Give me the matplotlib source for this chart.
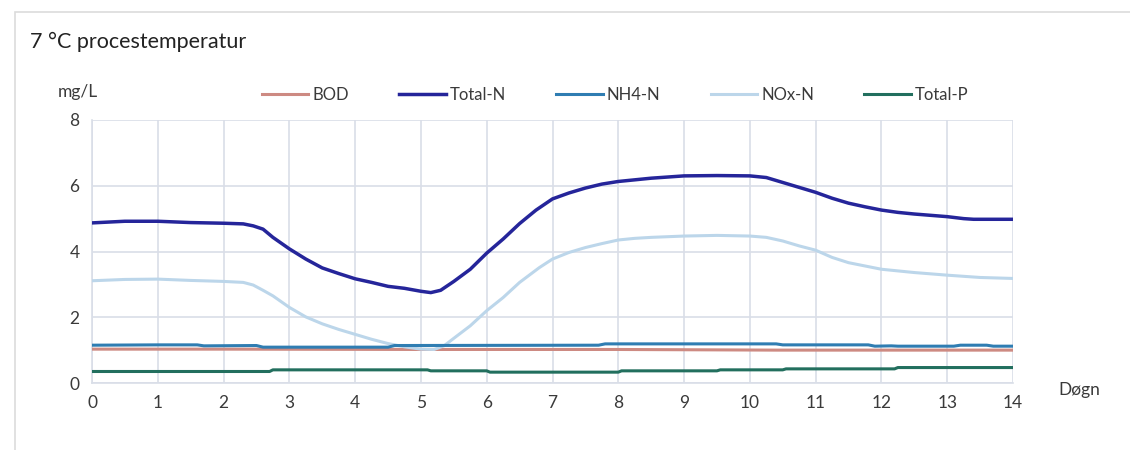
import matplotlib
matplotlib.use("Agg")
import matplotlib.pyplot as plt
from matplotlib.patches import Rectangle

# ---- data ----
days_n = [0, 0.5, 1, 1.5, 2, 2.3, 2.45, 2.6, 2.75, 3, 3.25, 3.5, 3.75, 4, 4.25, 4.5,
          4.75, 5, 5.15, 5.3, 5.5, 5.75, 6, 6.25, 6.5, 6.75, 7, 7.25, 7.5, 7.75, 8,
          8.25, 8.5, 9, 9.5, 10, 10.25, 10.5, 10.75, 11, 11.25, 11.5, 11.75, 12,
          12.25, 12.5, 12.75, 13, 13.25, 13.4, 14]
total_n = [4.87, 4.92, 4.92, 4.88, 4.86, 4.84, 4.78, 4.68, 4.43, 4.08, 3.77, 3.5, 3.33,
           3.17, 3.06, 2.94, 2.88, 2.79, 2.75, 2.82, 3.09, 3.46, 3.95, 4.38, 4.85, 5.26,
           5.6, 5.78, 5.93, 6.05, 6.13, 6.18, 6.23, 6.3, 6.31, 6.3, 6.25, 6.1, 5.95,
           5.8, 5.62, 5.47, 5.36, 5.26, 5.19, 5.14, 5.1, 5.06, 5.0, 4.98, 4.98]

days_x = [0, 0.5, 1, 1.5, 2, 2.3, 2.45, 2.6, 2.75, 3, 3.25, 3.5, 3.75, 4, 4.25, 4.5,
          4.75, 5, 5.2, 5.35, 5.5, 5.75, 6, 6.25, 6.5, 6.8, 7, 7.25, 7.5, 7.75, 8,
          8.25, 8.5, 9, 9.5, 10, 10.25, 10.5, 10.75, 11, 11.25, 11.5, 11.75, 12,
          12.5, 13, 13.5, 14]
nox_n = [3.11, 3.15, 3.16, 3.12, 3.09, 3.06, 2.98, 2.82, 2.65, 2.3, 2.01, 1.8, 1.63,
         1.48, 1.33, 1.2, 1.1, 1.03, 1.02, 1.13, 1.36, 1.74, 2.2, 2.6, 3.06, 3.51,
         3.77, 3.97, 4.12, 4.24, 4.35, 4.4, 4.43, 4.47, 4.49, 4.47, 4.43, 4.32, 4.17,
         4.04, 3.82, 3.66, 3.56, 3.46, 3.36, 3.28, 3.21, 3.18]

days_nh4 = [0, 1, 1.6, 1.7, 2.5, 2.6, 4.5, 4.6, 7.7, 7.8, 10.4, 10.5, 11.8, 11.9, 12.15,
            12.25, 13.1, 13.2, 13.6, 13.7, 14]
nh4_n = [1.15, 1.16, 1.16, 1.13, 1.14, 1.09, 1.09, 1.14, 1.15, 1.19, 1.19, 1.16, 1.16,
         1.12, 1.13, 1.12, 1.12, 1.15, 1.15, 1.12, 1.12]

days_bod = [0, 2, 5, 8, 10.4, 14]
bod = [1.03, 1.03, 1.02, 1.02, 1.0, 1.0]

days_p = [0, 2.7, 2.75, 5.1, 5.15, 6.0, 6.05, 8.0, 8.05, 9.5, 9.55, 10.5, 10.55,
          12.2, 12.25, 14]
total_p = [0.35, 0.35, 0.4, 0.4, 0.37, 0.37, 0.33, 0.33, 0.37, 0.37, 0.4, 0.4, 0.43,
           0.43, 0.47, 0.47]

x_ticks = list(range(0, 15))
y_ticks = [0, 2, 4, 6, 8]

# ---- styling ----
FONT = "Lato"
plt.rcParams["font.family"] = [FONT, "DejaVu Sans"]
TXT = "#3a3a3a"
GRID = "#d9dee8"

fig = plt.figure(figsize=(11.3, 4.5), dpi=100)
fig.patches.append(Rectangle((15 / 1130, -0.1), 1.2, 1.1 - 12 / 450, transform=fig.transFigure,
                             fill=False, edgecolor="#dcdcdc", linewidth=1.2))
ax = fig.add_axes([92 / 1130, 1 - 383 / 450, (1013 - 92) / 1130, (383 - 120) / 450])

ax.plot(days_bod, bod, color="#cd8a82", lw=2.2, label="BOD", zorder=3)
ax.plot(days_n, total_n, color="#25259a", lw=2.5, label="Total-N", zorder=5)
ax.plot(days_nh4, nh4_n, color="#2f7db2", lw=2.2, label="NH4-N", zorder=4)
ax.plot(days_x, nox_n, color="#bcd6ea", lw=2.2, label="NOx-N", zorder=3.5)
ax.plot(days_p, total_p, color="#226f5e", lw=2.2, label="Total-P", zorder=3)

ax.set_xlim(0, 14)
ax.set_ylim(0, 8)
ax.set_xticks(x_ticks)
ax.set_yticks(y_ticks)
ax.tick_params(length=0, labelsize=12.5, colors=TXT, pad=9)
ax.grid(True, color=GRID, lw=1.2)
ax.set_axisbelow(True)
for s in ["top", "right"]:
    ax.spines[s].set_visible(False)
for s in ["left", "bottom"]:
    ax.spines[s].set_color(GRID)
    ax.spines[s].set_linewidth(1.2)

fig.text(30 / 1130, 1 - 42 / 450, "7 °C procestemperatur", fontsize=15.5, color="#222222",
         va="center", ha="left")
fig.text(58 / 1130, 1 - 92 / 450, "mg/L", fontsize=12.5, color=TXT, va="center", ha="left")
fig.text(1058 / 1130, 1 - 390 / 450, "Døgn", fontsize=12.5, color=TXT, va="center", ha="left")

leg = fig.legend(loc="center left", bbox_to_anchor=(255 / 1130, 1 - 95 / 450), ncol=5,
                 frameon=False, fontsize=12, handlelength=2.8, handletextpad=0.25,
                 columnspacing=3.0, borderaxespad=0)
for t in leg.get_texts():
    t.set_color(TXT)

fig.savefig("out.png", dpi=100)
